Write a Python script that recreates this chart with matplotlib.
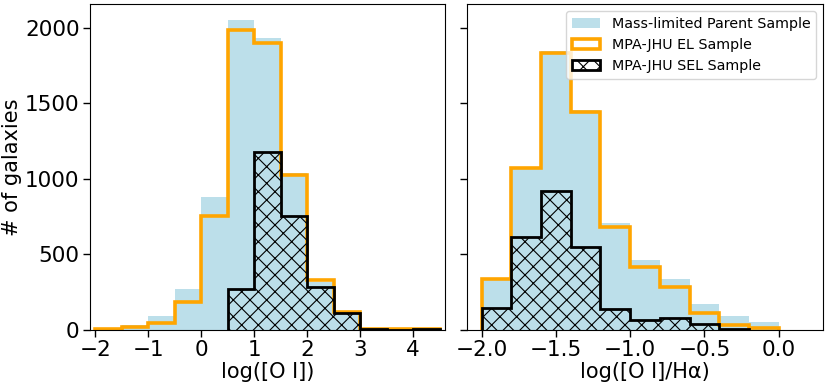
import matplotlib
matplotlib.use("Agg")
import matplotlib.pyplot as plt
import numpy as np

# log([O I]) histograms, bins of 0.5 dex
oi_edges = [-2.0, -1.5, -1.0, -0.5, 0.0, 0.5, 1.0, 1.5, 2.0, 2.5, 3.0, 3.5, 4.0, 4.5]
parent_oi = [8, 31, 91, 274, 878, 2050, 1930, 1036, 320, 121, 11, 3, 5]
el_oi = [9, 18, 49, 183, 754, 1985, 1900, 1025, 333, 117, 8, 4, 4]
sel_oi_edges = [0.5, 1.0, 1.5, 2.0, 2.5, 3.0, 3.5, 4.0, 4.5]
sel_oi = [269, 1175, 754, 287, 110, 9, 0, 6]

# log([O I]/Halpha) histograms, bins of 0.2 dex
ratio_edges = [-2.0, -1.8, -1.6, -1.4, -1.2, -1.0, -0.8, -0.6, -0.4, -0.2, 0.0]
parent_ratio = [342, 1080, 1848, 1455, 710, 463, 336, 172, 93, 53]
el_ratio = [336, 1069, 1830, 1444, 679, 415, 287, 110, 33, 13]
sel_ratio_edges = [-2.0, -1.8, -1.6, -1.4, -1.2, -1.0, -0.8, -0.6, -0.4, -0.2]
sel_ratio = [143, 617, 922, 551, 141, 66, 82, 42, 7]

parent_color = (173/255, 216/255, 230/255, 0.82)
el_color = "orange"


def centers(edges):
    e = np.asarray(edges)
    return (e[:-1] + e[1:]) / 2


def draw_panel(ax, edges, parent, el, sel_edges, sel):
    ax.hist(centers(edges), bins=edges, weights=parent, histtype="stepfilled",
            color=parent_color, label="Mass-limited Parent Sample")
    ax.hist(centers(edges), bins=edges, weights=el, histtype="step",
            color=el_color, linewidth=2.6, label="MPA-JHU EL Sample")
    ax.hist(centers(sel_edges), bins=sel_edges, weights=sel, histtype="step",
            edgecolor="black", hatch="xx", linewidth=2.0,
            label="MPA-JHU SEL Sample")


plt.rcParams["hatch.linewidth"] = 0.8

fig = plt.figure(figsize=(8.3, 3.87), dpi=100)
ax1 = fig.add_axes([0.1084, 0.1473, 0.4277, 0.8424])
ax2 = fig.add_axes([0.5623, 0.1473, 0.4297, 0.8424], sharey=ax1)

draw_panel(ax1, oi_edges, parent_oi, el_oi, sel_oi_edges, sel_oi)
draw_panel(ax2, ratio_edges, parent_ratio, el_ratio, sel_ratio_edges, sel_ratio)

ax1.set_xlim(-2.1, 4.6)
ax2.set_xlim(-2.1, 0.3)
ax1.set_ylim(0, 2157)
ax1.set_yticks([0, 500, 1000, 1500, 2000])
ax1.set_xticks([-2, -1, 0, 1, 2, 3, 4])
ax2.set_xticks([-2.0, -1.5, -1.0, -0.5, 0.0])

ax1.set_xlabel("log([O I])", fontsize=15, labelpad=1)
ax2.set_xlabel("log([O I]/H\u03b1)", fontsize=15, labelpad=1)
ax1.set_ylabel("# of galaxies", fontsize=15, labelpad=2)

for ax in (ax1, ax2):
    ax.tick_params(labelsize=15.5, length=5, width=1, pad=2.5)
ax2.tick_params(labelleft=False)

ax2.legend(loc="upper right", fontsize=10.3, framealpha=0.8)

fig.savefig("out.png", dpi=100)
